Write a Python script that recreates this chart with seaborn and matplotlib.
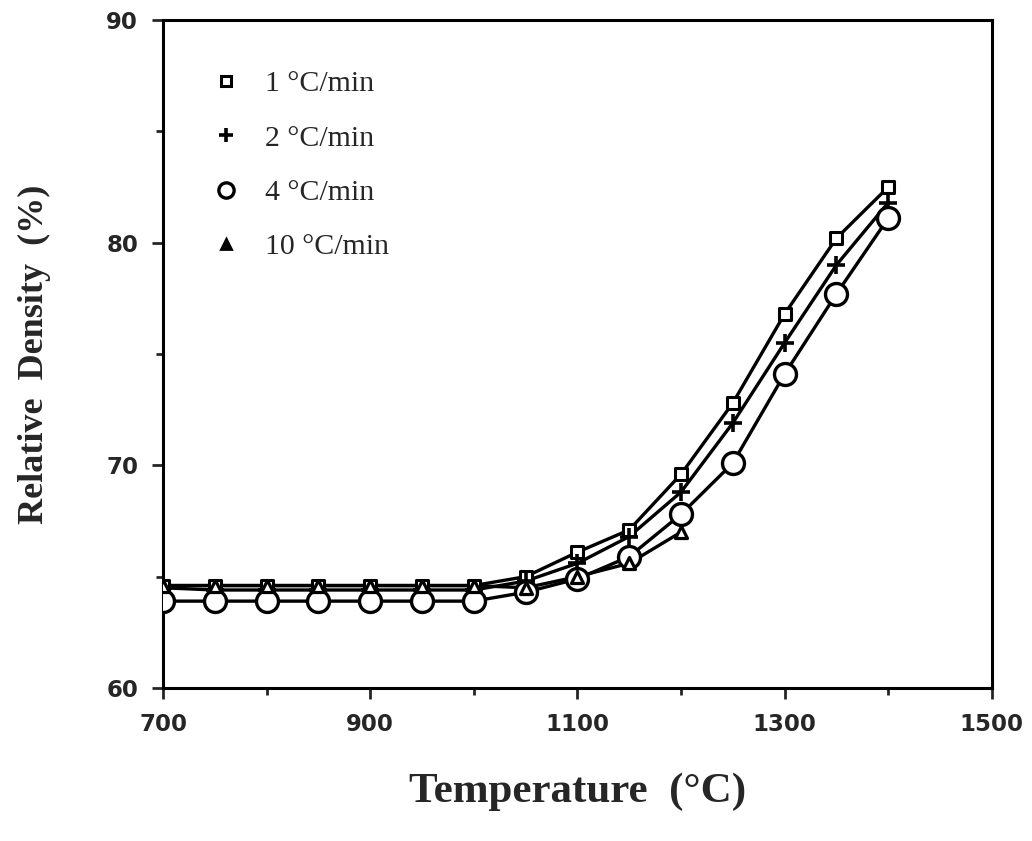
import matplotlib
matplotlib.use("Agg")
import matplotlib.pyplot as plt
import seaborn as sns
import pandas as pd
from matplotlib.lines import Line2D

# ---- data ----
temps = [700, 750, 800, 850, 900, 950, 1000, 1050, 1100, 1150, 1200, 1250, 1300, 1350, 1400]
rate1 = [64.6, 64.6, 64.6, 64.6, 64.6, 64.6, 64.6, 65.0, 66.1, 67.1, 69.6, 72.8, 76.8, 80.2, 82.5]
rate2 = [64.5, 64.4, 64.4, 64.4, 64.4, 64.4, 64.4, 64.8, 65.6, 66.8, 68.8, 71.9, 75.5, 79.0, 81.8]
rate4 = [63.9, 63.9, 63.9, 63.9, 63.9, 63.9, 63.9, 64.3, 64.9, 65.9, 67.8, 70.1, 74.1, 77.7, 81.1]
temps10 = [700, 750, 800, 850, 900, 950, 1000, 1050, 1100, 1150, 1200]
rate10 = [64.6, 64.6, 64.6, 64.6, 64.6, 64.6, 64.6, 64.5, 65.0, 65.6, 67.0]
labels = ["1 °C/min", "2 °C/min", "4 °C/min", "10 °C/min"]

x_ticks = [700, 900, 1100, 1300, 1500]
y_ticks = [60, 70, 80, 90]

sns.set_style("ticks")
plt.rcParams["font.family"] = ["DejaVu Sans"]

fig = plt.figure(figsize=(10.32, 8.41), dpi=100)
ax = fig.add_axes([0.158, 0.182, 0.803, 0.794])

series = [(temps, rate1), (temps, rate2), (temps, rate4), (temps10, rate10)]

# lines
for xs, ys in series:
    df = pd.DataFrame({"T": xs, "D": ys})
    sns.lineplot(data=df, x="T", y="D", ax=ax, color="black", lw=2.4,
                 sort=True, zorder=2)

# markers
marker_specs = [
    dict(marker="s", s=75, facecolor="white", edgecolor="black", linewidth=2.2),
    dict(marker="+", s=150, color="black", linewidth=2.6),
    dict(marker="o", s=250, facecolor="white", edgecolor="black", linewidth=2.4),
    dict(marker="^", s=75, facecolor="white", edgecolor="black", linewidth=2.3),
]
for (xs, ys), spec in zip(series, marker_specs):
    df = pd.DataFrame({"T": xs, "D": ys})
    sns.scatterplot(data=df, x="T", y="D", ax=ax, zorder=3, legend=False, **spec)

ax.set_xlim(700, 1500)
ax.set_ylim(60, 90)
ax.set_xticks(x_ticks)
ax.set_yticks(y_ticks)
ax.set_xticks([800, 1000, 1200, 1400], minor=True)
ax.set_yticks([65, 75, 85], minor=True)
ax.tick_params(axis="both", which="major", direction="out", length=8, width=2,
               labelsize=16.5, pad=10)
ax.tick_params(axis="both", which="minor", direction="out", length=5, width=2)
for lab in ax.get_xticklabels() + ax.get_yticklabels():
    lab.set_family("DejaVu Sans")
    lab.set_fontweight("bold")
for sp in ax.spines.values():
    sp.set_linewidth(2.2)
    sp.set_visible(True)
    sp.set_color("black")

ax.set_xlabel("Temperature  (°C)", fontsize=31, fontweight="bold",
              family="Liberation Serif", labelpad=26)
ax.set_ylabel("Relative  Density  (%)", fontsize=26, fontweight="bold",
              family="Liberation Serif", labelpad=40)

handles = [
    Line2D([], [], ls="none", marker="s", ms=7, mfc="white", mec="black", mew=2.2),
    Line2D([], [], ls="none", marker="+", ms=10, color="black", mew=2.6),
    Line2D([], [], ls="none", marker="o", ms=11, mfc="white", mec="black", mew=2.4),
    Line2D([], [], ls="none", marker="^", ms=7, mfc="black", mec="black", mew=2.0),
]
leg = ax.legend(handles, labels, loc="upper left", bbox_to_anchor=(0.033, 0.965),
                frameon=False, handlelength=0.6, handletextpad=1.0,
                labelspacing=0.92, prop={"family": "Liberation Serif", "size": 21.5})

fig.savefig("out.png", dpi=100)
